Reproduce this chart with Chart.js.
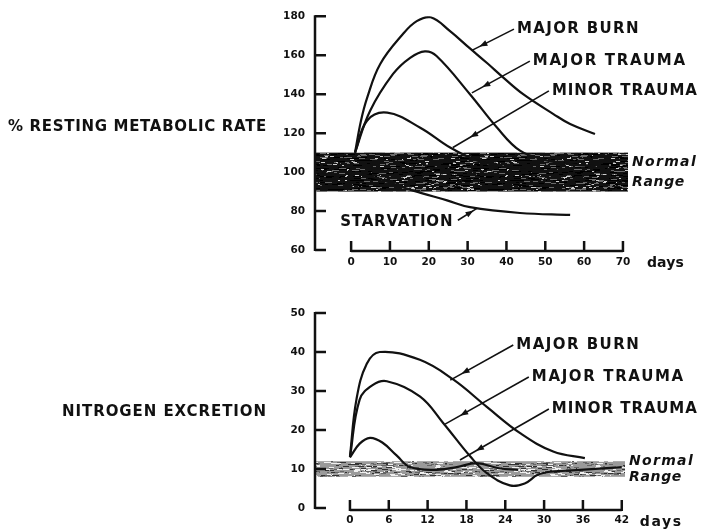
<!DOCTYPE html>
<html>
<head>
<meta charset="utf-8">
<script src="https://cdn.jsdelivr.net/npm/chart.js@4.4.1/dist/chart.umd.min.js"></script>
<style>
  body { margin: 0; background: #fff; }
  canvas { position: absolute; left: 0; }
  #rmr { top: 0; }
  #nitro { top: 280px; }
</style>
</head>
<body>
<canvas id="rmr" width="701" height="280"></canvas>
<canvas id="nitro" width="701" height="252"></canvas>
<script>
// values
var rmrTicks = [60, 80, 100, 120, 140, 160, 180];
var rmrDayTicks = [0, 10, 20, 30, 40, 50, 60, 70];
var rmrNormal = [90, 110];

var burnRmrDays = [1, 2.5, 4.1, 7.5, 13.4, 16.9, 20.5, 25.4, 30.6, 35, 39.2, 44.3, 52.1, 56.4, 62.8];
var burnRmr = [110, 126, 138, 155.5, 171, 177.5, 179.5, 172.5, 163.5, 156, 148.5, 140, 129.8, 124.7, 119.6];
var majorRmrDays = [1, 4.9, 10.8, 15.2, 19, 22, 30.6, 37.5, 43.5, 50.4, 57, 63];
var majorRmr = [110, 131.5, 150.4, 158.7, 162, 159.6, 140, 123, 111, 106, 104, 103];
var minorRmrDays = [1, 4.1, 9.3, 17.8, 25.5, 32.4, 39, 45];
var minorRmr = [110, 126.4, 130.5, 122.8, 112.6, 106, 103, 101];
var starvDays = [1, 8, 16, 24.7, 30.6, 43.5, 56.4];
var starvRmr = [100, 96, 90.5, 85.5, 82, 79, 78];

var nTicks = [0, 10, 20, 30, 40, 50];
var nDayTicks = [0, 6, 12, 18, 24, 30, 36, 42];
var nNormal = [8, 12];

var burnNDays = [0, 1, 2.6, 4.6, 10.8, 16, 21.1, 26.3, 31.4, 36.3];
var burnN = [13.2, 27.8, 37, 40, 38, 32.9, 26, 19.2, 14.5, 12.8];
var majorNDays = [0, 1.5, 3.5, 5.7, 10.8, 14.4, 18.6, 21.1, 24.7, 27, 29, 31, 35, 42];
var majorN = [13, 27.8, 31.5, 32.5, 28.6, 21.8, 13.2, 9, 5.8, 6.3, 8.5, 9.3, 9.7, 10.5];
var minorNDays = [0, 1.5, 3.1, 5, 7.2, 9.3, 13.4, 16.5, 19.6, 23, 26];
var minorN = [13, 16.5, 18, 16.8, 13.5, 10.5, 9.8, 10.5, 11.5, 10.2, 9.8];

var INK = '#111';
var LABEL_FONT = 'bold 15px "DejaVu Sans"';
var TICK_FONT = { family: 'DejaVu Sans', size: 10.5, weight: 'bold' };

// texture for the shaded "normal range" band (fixed seed, so always the same)
function bandPattern(base, marks, seed) {
  var c = document.createElement('canvas');
  c.width = 160; c.height = 40;
  var g = c.getContext('2d');
  g.fillStyle = base;
  g.fillRect(0, 0, c.width, c.height);
  var s = seed;
  function rnd() { s = (s * 16807) % 2147483647; return s / 2147483647; }
  marks.forEach(function (m) {
    g.fillStyle = m.color;
    for (var i = 0; i < m.n; i++) {
      g.fillRect(Math.round(rnd() * c.width), Math.round(rnd() * c.height), 1 + Math.round(rnd() * m.len), m.h);
    }
  });
  return g.createPattern(c, 'repeat');
}

function fitText(ctx, text, x, y, width) {
  ctx.letterSpacing = '0px';
  var w = ctx.measureText(text).width;
  if (width) ctx.letterSpacing = ((width - w) / text.length) + 'px';
  ctx.fillText(text, x, y);
  ctx.letterSpacing = '0px';
}

function arrow(ctx, x1, y1, x2, y2) {
  ctx.beginPath();
  ctx.moveTo(x1, y1);
  ctx.lineTo(x2, y2);
  ctx.stroke();
  var a = Math.atan2(y2 - y1, x2 - x1);
  var hx = x1 + (x2 - x1) * 0.82, hy = y1 + (y2 - y1) * 0.82;
  ctx.beginPath();
  ctx.moveTo(hx, hy);
  ctx.lineTo(hx - 8 * Math.cos(a) + 3 * Math.sin(a), hy - 8 * Math.sin(a) - 3 * Math.cos(a));
  ctx.lineTo(hx - 8 * Math.cos(a) - 3 * Math.sin(a), hy - 8 * Math.sin(a) + 3 * Math.cos(a));
  ctx.closePath();
  ctx.fill();
}

var figurePlugin = {
  id: 'figure',
  beforeDatasetsDraw: function (chart) {
    var o = chart.options.plugins.figure;
    var ctx = chart.ctx, area = chart.chartArea, y = chart.scales.y;
    var top = y.getPixelForValue(o.normal[1]), bot = y.getPixelForValue(o.normal[0]);
    ctx.save();
    ctx.fillStyle = o.pattern;
    ctx.fillRect(area.left, top, area.right - area.left, bot - top);
    ctx.restore();
  },
  afterDatasetsDraw: function (chart) {
    var o = chart.options.plugins.figure;
    var ctx = chart.ctx, area = chart.chartArea, x = chart.scales.x, y = chart.scales.y;
    ctx.save();
    ctx.strokeStyle = INK;
    ctx.fillStyle = INK;
    ctx.lineWidth = 2.5;
    ctx.lineCap = 'butt';

    // y axis with inward ticks
    ctx.beginPath();
    ctx.moveTo(area.left, y.getPixelForValue(y.max) - 1);
    ctx.lineTo(area.left, y.getPixelForValue(y.min) + 1);
    o.yTicks.forEach(function (v) {
      var py = y.getPixelForValue(v);
      ctx.moveTo(area.left, py);
      ctx.lineTo(area.left + 11, py);
    });
    ctx.stroke();

    // detached x axis with upward ticks
    var ay = area.bottom + o.xAxisDrop;
    var x0 = x.getPixelForValue(o.xTicks[0]), x1 = x.getPixelForValue(o.xTicks[o.xTicks.length - 1]);
    ctx.beginPath();
    ctx.moveTo(x0, ay);
    ctx.lineTo(x1, ay);
    o.xTicks.forEach(function (v) {
      var px = x.getPixelForValue(v);
      ctx.moveTo(px, ay + 1);
      ctx.lineTo(px, ay - 10);
    });
    ctx.stroke();

    // labels
    ctx.textBaseline = 'middle';
    ctx.textAlign = 'left';
    ctx.font = LABEL_FONT;
    ctx.lineWidth = 1.6;
    o.notes.forEach(function (n) {
      var tx = x.getPixelForValue(n.at[0]), ty = y.getPixelForValue(n.at[1]);
      fitText(ctx, n.text, tx, ty, n.width);
      var sx = n.from ? x.getPixelForValue(n.from[0]) : tx - 3;
      var sy = n.from ? y.getPixelForValue(n.from[1]) : ty;
      arrow(ctx, sx, sy, x.getPixelForValue(n.to[0]), y.getPixelForValue(n.to[1]));
    });

    fitText(ctx, o.title, o.titleLeft, o.titleY, o.titleWidth);
    ctx.font = 'bold 14px "DejaVu Sans"';
    fitText(ctx, 'days', x1 + o.daysGap, ay + 12, o.daysWidth);

    ctx.font = 'italic bold 14px "DejaVu Sans"';
    var mid = (y.getPixelForValue(o.normal[1]) + y.getPixelForValue(o.normal[0])) / 2;
    fitText(ctx, 'Normal', area.right + 4, mid - o.rangeGap, 65);
    fitText(ctx, 'Range', area.right + 4, mid + o.rangeGap, 53);
    ctx.restore();
  }
};

function series(days, vals) {
  return {
    data: days.map(function (d, i) { return { x: d, y: vals[i] }; }),
    borderColor: INK,
    borderWidth: 2.2,
    pointRadius: 0,
    fill: false,
    tension: 0.4
  };
}

function panel(id, p) {
  return new Chart(document.getElementById(id), {
    type: 'line',
    data: { datasets: p.datasets },
    options: {
      responsive: false,
      animation: false,
      events: [],
      layout: { padding: { top: p.padTop, right: p.padRight, left: 0, bottom: 0 } },
      plugins: {
        legend: { display: false },
        tooltip: { enabled: false },
        figure: p.figure
      },
      scales: {
        x: {
          type: 'linear',
          min: p.xMin,
          max: p.xMax,
          grid: { display: false, drawTicks: false },
          border: { display: false },
          afterBuildTicks: function (s) { s.ticks = p.figure.xTicks.map(function (v) { return { value: v }; }); },
          afterFit: function (s) { s.height = p.xHeight; },
          ticks: { font: TICK_FONT, color: INK, padding: 6, maxRotation: 0, autoSkip: false }
        },
        y: {
          min: p.figure.yTicks[0],
          max: p.figure.yTicks[p.figure.yTicks.length - 1],
          grid: { display: false, drawTicks: false },
          border: { display: false },
          afterBuildTicks: function (s) { s.ticks = p.figure.yTicks.map(function (v) { return { value: v }; }); },
          afterFit: function (s) { s.width = 315; },
          ticks: { font: TICK_FONT, color: INK, padding: 10 }
        }
      }
    },
    plugins: [figurePlugin]
  });
}

panel('rmr', {
  padTop: 15, padRight: 73, xHeight: 30, xMin: -9.3, xMax: 71.3,
  datasets: [
    series(burnRmrDays, burnRmr),
    series(majorRmrDays, majorRmr),
    series(minorRmrDays, minorRmr),
    series(starvDays, starvRmr)
  ],
  figure: {
    yTicks: rmrTicks, xTicks: rmrDayTicks, normal: rmrNormal, xAxisDrop: 1,
    pattern: bandPattern('#111', [
      { color: '#6a6a6a', n: 260, len: 6, h: 1 },
      { color: '#cfcfcf', n: 110, len: 3, h: 1 },
      { color: '#000', n: 200, len: 8, h: 1 }
    ], 7),
    title: '% RESTING METABOLIC RATE', titleLeft: 8, titleY: 127, titleWidth: 259,
    daysGap: 24, daysWidth: 37, rangeGap: 10,
    notes: [
      { text: 'MAJOR BURN', at: [42.7, 173.4], to: [31.1, 162.5], width: 123 },
      { text: 'MAJOR TRAUMA', at: [46.8, 157], to: [31.1, 140.7], width: 154 },
      { text: 'MINOR TRAUMA', at: [51.7, 141.7], to: [26.2, 112.6], width: 146 },
      { text: 'STARVATION', at: [-2.8, 74.3], from: [27.5, 75.3], to: [32.4, 81.4], width: 113 }
    ]
  }
});

panel('nitro', {
  padTop: 33, padRight: 76, xHeight: 24, xMin: -5.4, xMax: 42.5,
  datasets: [
    series(burnNDays, burnN),
    series(majorNDays, majorN),
    series(minorNDays, minorN)
  ],
  figure: {
    yTicks: nTicks, xTicks: nDayTicks, normal: nNormal, xAxisDrop: 2,
    pattern: bandPattern('#9a9a9a', [
      { color: '#f0f0f0', n: 320, len: 7, h: 1 },
      { color: '#333', n: 200, len: 6, h: 1 },
      { color: '#666', n: 200, len: 4, h: 1 }
    ], 11),
    title: 'NITROGEN EXCRETION', titleLeft: 62, titleY: 132, titleWidth: 205,
    daysGap: 18, daysWidth: 43, rangeGap: 8,
    notes: [
      { text: 'MAJOR BURN', at: [25.7, 41.8], to: [15.5, 32.8], width: 124 },
      { text: 'MAJOR TRAUMA', at: [28.1, 33.6], to: [14.7, 21.5], width: 153 },
      { text: 'MINOR TRAUMA', at: [31.2, 25.4], to: [17, 12.3], width: 146 }
    ]
  }
});
</script>
</body>
</html>
